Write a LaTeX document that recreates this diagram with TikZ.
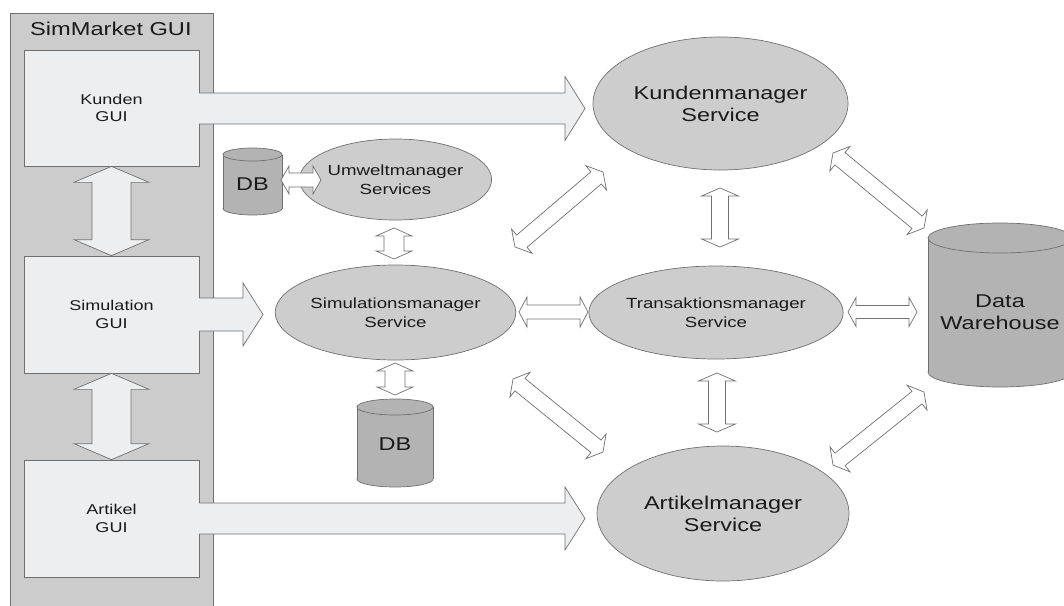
\documentclass[tikz,border=0pt]{standalone}
\usepackage{fontspec}
\setmainfont{Liberation Sans}[FakeStretch=1.27]
\usetikzlibrary{calc,shapes.geometric}
\definecolor{panelc}{HTML}{CCCCCC}
\definecolor{guic}{HTML}{EDEEF0}
\definecolor{ellc}{HTML}{CDCDCD}
\definecolor{dbc}{HTML}{B3B3B3}
\definecolor{linec}{HTML}{707070}
\definecolor{txtc}{HTML}{1A1A1A}
\newcommand\ftitle{\fontsize{18.6}{22}\selectfont}
\newcommand\fbig{\fontsize{18.5}{22.2}\selectfont}
\newcommand\fmid{\fontsize{14.7}{18.6}\selectfont}
\newcommand\fgui{\fontsize{14.2}{17.8}\selectfont}
\tikzset{
  lw/.style={line width=0.7pt},
  guibox/.style={lw, draw=linec, fill=guic, minimum width=175pt, minimum height=117pt,
    inner sep=0pt, align=center, font=\fgui, text=txtc},
  service/.style={lw, ellipse, draw=linec, fill=ellc, inner sep=0pt, align=center, text=txtc},
  blockarrow/.style={lw, draw=linec, fill=white, line join=miter},
  dblabel/.style={inner sep=0pt, align=center, text=txtc},
}
% double block arrow: [style] A, B, shaft half, head half, head length
\newcommand\dblarr[6][]{%
  \draw[blockarrow,#1] (#2)
   -- ($(#2)!#6!(#3)!#5!90:(#3)$) -- ($(#2)!#6!(#3)!#4!90:(#3)$)
   -- ($(#3)!#6!(#2)!#4!-90:(#2)$) -- ($(#3)!#6!(#2)!#5!-90:(#2)$)
   -- (#3)
   -- ($(#3)!#6!(#2)!#5!90:(#2)$) -- ($(#3)!#6!(#2)!#4!90:(#2)$)
   -- ($(#2)!#6!(#3)!#4!-90:(#3)$) -- ($(#2)!#6!(#3)!#5!-90:(#3)$)
   -- cycle;}
% single GUI arrow: start, tip, shaft half, head half, head length
\newcommand\guiarr[5]{%
  \fill[guic] let \p1=(#1), \p2=(#2) in
    (\x1-2pt,\y1+#3) -- (\x2-#5,\y1+#3) -- (\x2-#5,\y1+#4) -- (\x2,\y1)
    -- (\x2-#5,\y1-#4) -- (\x2-#5,\y1-#3) -- (\x1-2pt,\y1-#3) -- cycle;
  \draw[lw, draw=linec, line join=miter] let \p1=(#1), \p2=(#2) in
    (\x1,\y1+#3) -- (\x2-#5,\y1+#3) -- (\x2-#5,\y1+#4) -- (\x2,\y1)
    -- (\x2-#5,\y1-#4) -- (\x2-#5,\y1-#3) -- (\x1,\y1-#3);}
% cylinder: cx, top, bottom, rx, ry
\newcommand\cyl[5]{%
  \filldraw[lw, fill=dbc, draw=linec] (#1,#3-#5) ellipse [x radius=#4, y radius=#5];
  \fill[dbc] (#1-#4,#2+#5) rectangle (#1+#4,#3-#5);
  \draw[lw, linec] (#1-#4,#2+#5) -- (#1-#4,#3-#5) (#1+#4,#2+#5) -- (#1+#4,#3-#5);
  \filldraw[lw, fill=dbc, draw=linec] (#1,#2+#5) ellipse [x radius=#4, y radius=#5];}
\begin{document}
\begin{tikzpicture}[x=1pt,y=-1pt]
\useasboundingbox (0,0) rectangle (1064,605);
\clip (0,0) rectangle (1064,605);

% panel
\draw[lw, draw=linec, fill=panelc] (10,13) rectangle (213,620);
\node[anchor=base west, font=\ftitle, text=txtc, inner sep=0pt] (title) at (30,35) {SimMarket GUI};

% GUI boxes
\node[guibox, minimum height=116pt] (kg) at (111.5,108) {Kunden\\GUI};
\node[guibox] (sg) at (111.5,314.5) {Simulation\\GUI};
\node[guibox] (ag) at (111.5,518.5) {Artikel\\GUI};

% services
\node[service, minimum width=255pt, minimum height=133pt, font=\fbig] (km) at (720.5,103.5) {Kundenmanager\\Service};
\node[service, minimum width=226pt, minimum height=93pt, font=\fmid] (tm) at (716,312.5) {Transaktionsmanager\\Service};
\node[service, minimum width=252pt, minimum height=135pt, font=\fbig] (am) at (723,513.5) {Artikelmanager\\Service};
\node[service, minimum width=229pt, minimum height=95pt, font=\fmid] (sm) at (395.5,312.5) {Simulationsmanager\\Service};
\node[service, minimum width=151pt, minimum height=81pt, font=\fmid] (um) at (395.5,179.5) {Umweltmanager\\Services};

% databases
\cyl{252.5}{148}{215}{29.5}{6.5}
\node[dblabel, font=\fbig] (db1) at (252.5,184) {DB};
\cyl{395}{399}{487}{38}{8}
\node[dblabel, font=\fbig] (db2) at (395,444) {DB};
\cyl{1000}{223}{387}{72}{15}
\node[dblabel, font=\fbig] (dw) at (1000,312) {Data\\Warehouse};

% GUI arrows
\coordinate (kgo) at (199,108.5);  \coordinate (kgt) at (585,108.5);
\coordinate (sgo) at (199,314.5);  \coordinate (sgt) at (263,314.5);
\coordinate (ago) at (199,518.5);  \coordinate (agt) at (585,518.5);
\guiarr{kgo}{kgt}{15.5pt}{32pt}{20pt}
\guiarr{sgo}{sgt}{16.5pt}{31.5pt}{20pt}
\guiarr{ago}{agt}{15.5pt}{31.5pt}{20pt}

% vertical GUI double arrows
\coordinate (g1a) at (kg.south); \coordinate (g1b) at (sg.north);
\coordinate (g2a) at (sg.south); \coordinate (g2b) at (ag.north);
\dblarr[fill=guic]{g1a}{g1b}{19.5pt}{37.5pt}{16pt}
\dblarr[fill=guic]{g2a}{g2b}{19.5pt}{37.5pt}{16pt}

% small double arrows
\coordinate (a3a) at (281,180);   \coordinate (a3b) at (321,180);
\coordinate (a4a) at (394,228);   \coordinate (a4b) at (394,259);
\coordinate (a5a) at (395,363);   \coordinate (a5b) at (395,395);
\coordinate (a6a) at (519,312);   \coordinate (a6b) at (588,312);
\coordinate (a7a) at (848,312);   \coordinate (a7b) at (917,312);
\coordinate (a8a) at (720,188);   \coordinate (a8b) at (720,247);
\coordinate (a9a) at (717,373);   \coordinate (a9b) at (717,432);
\coordinate (d1a) at (515,247);   \coordinate (d1b) at (603,172);
\coordinate (d2a) at (513,379);   \coordinate (d2b) at (603,452);
\coordinate (d3a) at (833,153);   \coordinate (d3b) at (924,228);
\coordinate (d4a) at (924,392);   \coordinate (d4b) at (833,465);
\dblarr{a3a}{a3b}{7pt}{14pt}{8pt}
\dblarr{a4a}{a4b}{10pt}{18pt}{8pt}
\dblarr{a5a}{a5b}{10pt}{18pt}{8pt}
\dblarr{a6a}{a6b}{7pt}{15pt}{8pt}
\dblarr{a7a}{a7b}{6.5pt}{14.5pt}{8pt}
\dblarr{a8a}{a8b}{8.5pt}{18.5pt}{8pt}
\dblarr{a9a}{a9b}{8.5pt}{18.5pt}{8pt}
\dblarr{d1a}{d1b}{8pt}{16pt}{9pt}
\dblarr{d2a}{d2b}{8pt}{16pt}{9pt}
\dblarr{d3a}{d3b}{8pt}{16pt}{9pt}
\dblarr{d4a}{d4b}{8pt}{16pt}{9pt}
\end{tikzpicture}
\end{document}
